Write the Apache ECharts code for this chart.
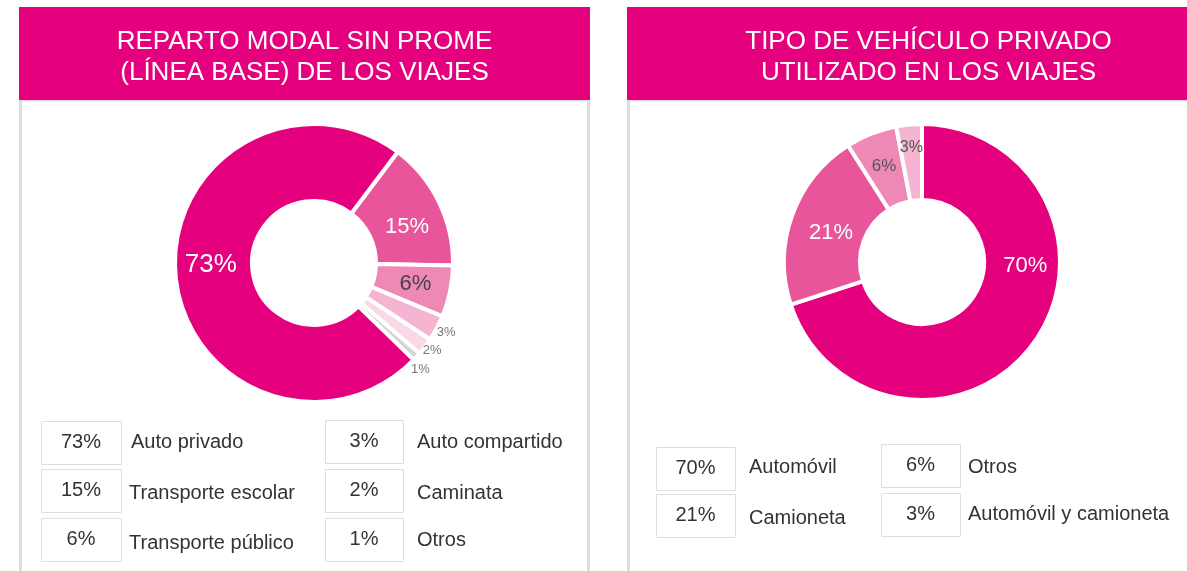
<!doctype html>
<html>
<head>
<meta charset="utf-8">
<title>Reparto modal</title>
<style>
  html, body { margin: 0; padding: 0; background: #fff; }
  #main { width: 1187px; height: 571px; }
</style>
</head>
<body>
<div id="main"></div>
<script src="https://cdn.jsdelivr.net/npm/echarts@6/dist/echarts.min.js"></script>
<script>
// datos: reparto modal (izquierda)
var modalNames = ['Transporte escolar', 'Transporte público', 'Auto compartido', 'Caminata', 'Otros', 'Auto privado'];
var modalValues = [15, 6, 3, 2, 1, 73];
var modalLegendOrder = ['Auto privado', 'Transporte escolar', 'Transporte público', 'Auto compartido', 'Caminata', 'Otros'];

// datos: tipo de vehiculo privado (derecha)
var vehNames = ['Automóvil', 'Camioneta', 'Otros', 'Automóvil y camioneta'];
var vehValues = [70, 21, 6, 3];
var vehLegendOrder = ['Automóvil', 'Camioneta', 'Otros', 'Automóvil y camioneta'];

var titles = ['REPARTO MODAL SIN PROME\n(LÍNEA BASE) DE LOS VIAJES', 'TIPO DE VEHÍCULO PRIVADO\nUTILIZADO EN LOS VIAJES'];

var FONT = 'Liberation Sans, Arial, sans-serif';
var pink = '#e5007e';
var modalColors = ['#e9559a', '#ee89b6', '#f4b4d2', '#f9d8e8', '#d5d5d5', '#e5007e'];
var vehColors = ['#e5007e', '#e9559a', '#ee89b6', '#f4b4d2'];

function valueOf(names, values, n) { return values[names.indexOf(n)]; }

var modalLabel = [
    { color: '#fff', fontSize: 22, position: 'inside', offset: [0, 9] },
    { color: '#444', fontSize: 22, position: 'inside' },
    { color: '#777', fontSize: 13, position: 'outside', offset: [-5, 4] },
    { color: '#777', fontSize: 13, position: 'outside', offset: [-8, 3] },
    { color: '#777', fontSize: 13, position: 'outside', offset: [-18, 6] },
    { color: '#fff', fontSize: 26, position: 'inside', offset: [0, -6] }
];
var modalLine = [{}, {}, { length: 0 }, { length: 1 }, { length: 10 }, {}];
var vehLabel = [
    { color: '#fff', fontSize: 22, position: 'inside', offset: [20, -57] },
    { color: '#fff', fontSize: 22, position: 'inside', offset: [6, 6] },
    { color: '#555', fontSize: 17, position: 'inside' },
    { color: '#555', fontSize: 16, position: 'inside', offset: [-1, -12] }
];

var modalData = modalNames.map(function (n, i) {
    return { name: n, value: modalValues[i], itemStyle: { color: modalColors[i] },
             label: modalLabel[i], labelLine: modalLine[i] };
});
var vehData = vehNames.map(function (n, i) {
    return { name: n, value: vehValues[i], itemStyle: { color: vehColors[i] }, label: vehLabel[i] };
});

var graphic = [];

// cabeceras y marcos
function panel(x, w, title) {
    graphic.push({ type: 'rect', shape: { x: x, y: 100, width: w, height: 480 },
        style: { fill: '#fff', stroke: '#dcdcdc', lineWidth: 3 }, z: 0 });
    graphic.push({ type: 'rect', shape: { x: x - 1.5, y: 7, width: w + 3, height: 93 },
        style: { fill: pink }, z: 1 });
    graphic.push({ type: 'text', x: x + w / 2, y: 57, z: 2,
        style: { text: title, fill: '#fff', font: '26px ' + FONT, align: 'center',
                 verticalAlign: 'middle', lineHeight: 31 } });
}
panel(20.5, 568, titles[0]);
panel(628.5, 600, titles[1]);

// leyendas tipo tabla
function legendItem(bx, by, bw, bh, lx, ly, name, val) {
    graphic.push({ type: 'rect', shape: { x: bx + 0.5, y: by + 0.5, width: bw, height: bh },
        style: { fill: '#fff', stroke: '#dedede', lineWidth: 1 }, z: 3 });
    graphic.push({ type: 'text', x: bx + bw / 2, y: by + bh / 2, z: 4,
        style: { text: val + '%', fill: '#333', font: '20px ' + FONT, align: 'center', verticalAlign: 'middle' } });
    graphic.push({ type: 'text', x: lx, y: ly, z: 4,
        style: { text: name, fill: '#333', font: '20px ' + FONT, align: 'left', verticalAlign: 'middle' } });
}

var modalPos = [
    [41, 421, 131, 442], [41, 469, 129, 493], [41, 518, 129, 543],
    [325, 420, 417, 442], [325, 469, 417, 493], [325, 518, 417, 540]
];
modalLegendOrder.forEach(function (n, i) {
    var p = modalPos[i];
    var bw = i < 3 ? 80 : 78;
    legendItem(p[0], p[1], bw, 43, p[2], p[3], n, valueOf(modalNames, modalValues, n));
});

var vehPos = [
    [656, 447, 749, 467], [656, 494, 749, 518],
    [881, 444, 968, 467], [881, 493, 968, 514]
];
vehLegendOrder.forEach(function (n, i) {
    var p = vehPos[i];
    legendItem(p[0], p[1], 79, 43, p[2], p[3], n, valueOf(vehNames, vehValues, n));
});

var chart = echarts.init(document.getElementById('main'));
chart.setOption({
    animation: false,
    textStyle: { fontFamily: FONT },
    graphic: graphic,
    series: [
        {
            type: 'pie',
            center: [314, 263],
            radius: [62, 139],
            startAngle: 53,
            clockwise: true,
            avoidLabelOverlap: false,
            itemStyle: { borderColor: '#fff', borderWidth: 4 },
            label: { show: true, formatter: '{c}%', fontFamily: FONT, alignTo: 'none' },
            labelLine: { show: false, length: 2, length2: 0 },
            labelLayout: { hideOverlap: false },
            emphasis: { disabled: true },
            data: modalData,
            z: 5
        },
        {
            type: 'pie',
            center: [922, 262],
            radius: [62, 138],
            startAngle: 90,
            clockwise: true,
            avoidLabelOverlap: false,
            itemStyle: { borderColor: '#fff', borderWidth: 4 },
            label: { show: true, formatter: '{c}%', fontFamily: FONT },
            labelLine: { show: false },
            labelLayout: { hideOverlap: false },
            emphasis: { disabled: true },
            data: vehData,
            z: 5
        }
    ]
});
</script>
</body>
</html>
